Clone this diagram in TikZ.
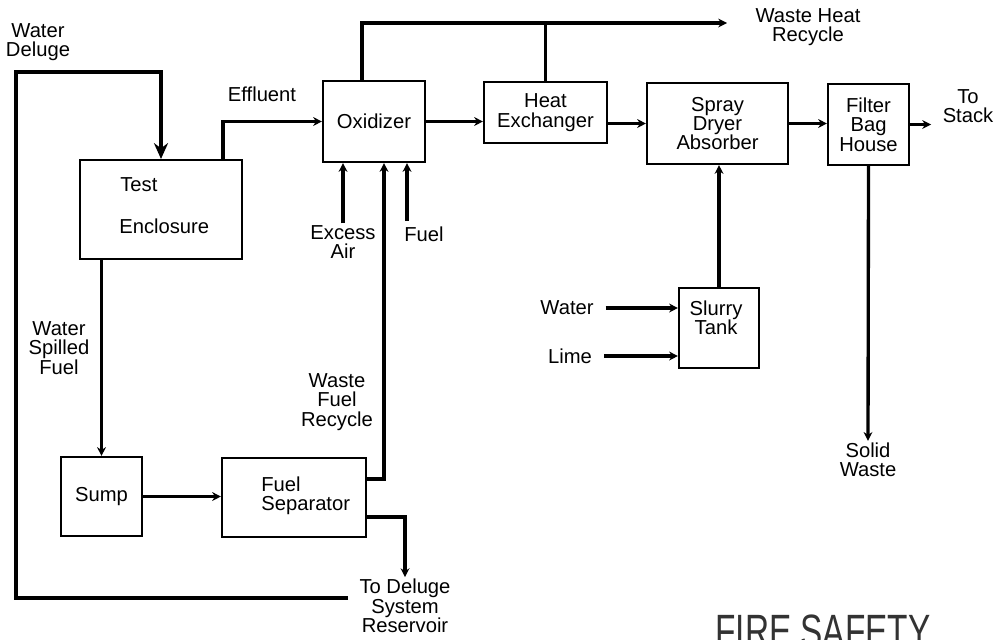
\documentclass[tikz,border=0pt]{standalone}
\usepackage{fontspec}
\setmainfont{Liberation Sans}
\usetikzlibrary{arrows.meta,calc,positioning}

\begin{document}
\begin{tikzpicture}[
  x=0.02cm,
  y=-0.02cm,
  font=\fontsize{11.5}{11}\selectfont,
  >={Stealth[length=5pt,width=5pt]},
  unit/.style={draw, line width=1.2pt, inner sep=0pt, align=center},
  tag/.style={inner sep=1pt, align=center},
  flow/.style={->, line width=1.9pt},
  pipe/.style={line width=1.9pt},
  deluge/.style={-{Stealth[length=9pt,width=8pt]}, line width=2.8pt}
]
  \useasboundingbox (0,0) rectangle (996,639);

  % process units
  \node[unit, minimum width=3.24cm, minimum height=1.98cm] (test) at (161,209.5) {};
  \node[anchor=base west, inner sep=0pt] (testA) at (120,191) {Test};
  \node[anchor=base west, inner sep=0pt] (testB) at (119,233) {Enclosure};
  \node[unit, minimum width=2.04cm, minimum height=1.62cm] (ox) at (374,121.5) {Oxidizer};
  \node[unit, minimum width=2.46cm, minimum height=1.22cm] (hx) at (545.5,112.5) {Heat\\Exchanger};
  \node[unit, minimum width=2.82cm, minimum height=1.62cm] (sda) at (717.5,123.5) {Spray\\Dryer\\Absorber};
  \node[unit, minimum width=1.62cm, minimum height=1.62cm] (fbh) at (868.5,124.5) {Filter\\Bag\\House};
  \node[unit, minimum width=1.6cm, minimum height=1.6cm] (st) at (719,328) {};
  \node[tag] (sttxt) at (716,318) {Slurry\\Tank};
  \node[unit, minimum width=1.62cm, minimum height=1.58cm] (sump) at (101.5,496.5) {Sump};
  \node[unit, minimum width=2.88cm, minimum height=1.58cm] (fs) at (294,497.5) {};
  \node[anchor=west, inner sep=0pt, align=left] (fstxt) at (261,496) {Fuel\\Separator};

  % stream labels
  \node[tag] (deluge) at (38,42) {Water\\Deluge};
  \node[tag] (effl) at (262,94) {Effluent};
  \node[tag] (whr) at (808,27) {Waste Heat\\Recycle};
  \node[tag] (stack) at (968,106) {To\\Stack};
  \node[tag] (air) at (343,242) {Excess\\Air};
  \node[tag] (fuel) at (424,234) {Fuel};
  \node[tag] (water) at (567,308) {Water};
  \node[tag] (lime) at (570,356) {Lime};
  \node[tag] (spill) at (59,348) {Water\\Spilled\\Fuel};
  \node[tag] (wfr) at (337,402) {Waste\\Fuel\\Recycle};
  \node[tag] (solid) at (868,460) {Solid\\Waste};
  \node[tag] (tdsr) at (405,606) {To Deluge\\System\\Reservoir};
  \node[anchor=base west, inner sep=0pt, text=black!80, font=\fontsize{19}{19}\selectfont] (title) at (715,647) {\scalebox{1}[1.4]{FIRE SAFETY}};

  \coordinate (delret) at (348,598);
  \coordinate (delcorner) at (16,72);
  \coordinate (whend) at (727,23);
  \coordinate (fuelin) at (407,221);

  % deluge loop
  \draw[deluge] (delret) -| (delcorner) -| (test.north);

  % gas train
  \draw[flow] ([xshift=-0.4cm]test.north east) |- (ox.west);
  \draw[flow] ([xshift=0.8cm]ox.north west) |- (whend);
  \draw[pipe] (hx.north) -- (hx.north |- whend);
  \draw[flow] (ox.east) -- (ox.east -| hx.west);
  \draw[flow] (sda.west -| hx.east) -- (sda.west);
  \draw[flow] (sda.east) -- (sda.east -| fbh.west);
  \draw[flow] (fbh.east) -- ++(21,0);
  \draw[flow] (fbh.south) -- (solid.north);
  \draw[flow] (st.north) -- (st.north |- sda.south);
  \draw[flow] ([xshift=0.2cm]water.east) -- (water.east -| st.west);
  \draw[flow] ([xshift=0.2cm]lime.east) -- (lime.east -| st.west);
  \draw[flow] (air.north) -- (air.north |- ox.south);
  \draw[flow] (fuelin) -- (fuelin |- ox.south);

  % liquid train
  \draw[flow] (test.south -| sump.north) -- (sump.north);
  \draw[flow] (sump.east) -- (sump.east -| fs.west);
  \draw[flow] ([yshift=0.37cm]fs.east) -| ([xshift=0.2cm]ox.south);
  \draw[flow] ([yshift=-0.39cm]fs.east) -| (tdsr.north);
\end{tikzpicture}
\end{document}
